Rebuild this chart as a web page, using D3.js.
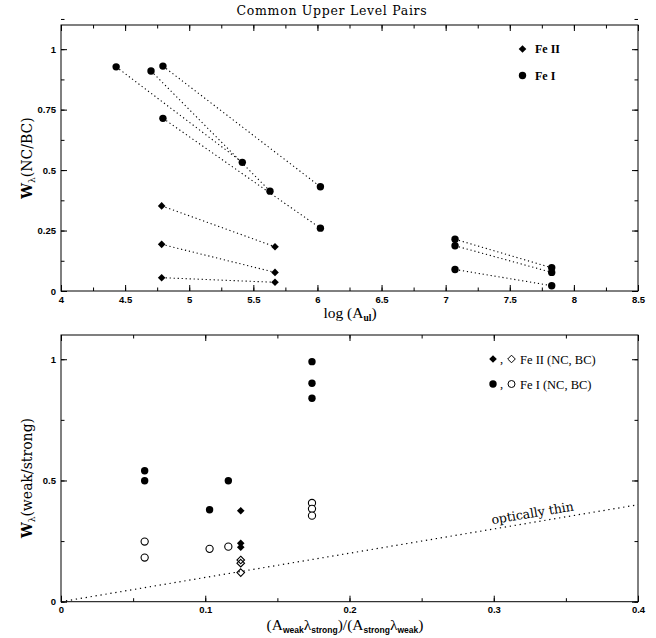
<!DOCTYPE html>
<html>
<head>
<meta charset="utf-8">
<script src="https://cdn.jsdelivr.net/npm/d3@7"></script>
<style>
  html, body { margin: 0; padding: 0; background: #fff; }
  svg { display: block; }
  .tick text { font-family: "Liberation Sans", Arial, sans-serif; font-weight: bold; font-size: 9.5px; fill: #000; }
  .serif { font-family: "DejaVu Serif", "Liberation Serif", serif; fill: #000; }
  .times { font-family: "Liberation Serif", "Times New Roman", serif; fill: #000; }
</style>
</head>
<body>
<svg id="chart" width="656" height="638"></svg>
<script>
// ---------- Upper panel: common upper level pairs, W(NC/BC) vs log A_ul ----------
// Each pair: [logA_1, ratio_1, logA_2, ratio_2]
const feIIPairs = [
  [4.785, 0.352, 5.669, 0.183],
  [4.785, 0.193, 5.669, 0.077],
  [4.785, 0.055, 5.669, 0.036]
];
const feIPairs = [
  [4.430, 0.927, 5.414, 0.532],
  [4.702, 0.910, 5.630, 0.413],
  [4.795, 0.930, 6.023, 0.431],
  [4.795, 0.714, 6.023, 0.260],
  [7.073, 0.214, 7.827, 0.096],
  [7.073, 0.187, 7.827, 0.077],
  [7.073, 0.089, 7.827, 0.022]
];
const topXTicks = [4, 4.5, 5, 5.5, 6, 6.5, 7, 7.5, 8, 8.5];
const topYTicks = [0, 0.25, 0.5, 0.75, 1];

// ---------- Lower panel: W(weak/strong) vs (A_weak λ_strong)/(A_strong λ_weak) ----------
const feINcX = [0.058, 0.058, 0.103, 0.116, 0.174, 0.174, 0.174];
const feINcY = [0.540, 0.499, 0.379, 0.499, 0.990, 0.901, 0.839];
const feIBcX = [0.058, 0.058, 0.103, 0.116, 0.174, 0.174, 0.174];
const feIBcY = [0.248, 0.182, 0.218, 0.227, 0.407, 0.383, 0.355];
const feIINcX = [0.1246, 0.1246, 0.1246];
const feIINcY = [0.375, 0.241, 0.225];
const feIIBcX = [0.1246, 0.1246, 0.1246];
const feIIBcY = [0.172, 0.159, 0.120];
const thinX = [0, 0.4];
const thinY = [0, 0.4];
const botXTicks = [0, 0.1, 0.2, 0.3, 0.4];
const botYTicks = [0, 0.5, 1];

const svg = d3.select("#chart");
const L = 61, R = 638;

const diamond = r => `M0,${-r}L${r},0L0,${r}L${-r},0Z`;

function frame(g, x, y, xMajor, xMinor, yMajor, yMinor, yFmt) {
  const [y0, y1] = y.range();
  const majorLen = 6, minorLen = 3.5;
  // bottom
  g.append("g").attr("transform", `translate(0,${y0})`)
    .call(d3.axisBottom(x).tickValues(xMajor).tickSize(-majorLen).tickPadding(5).tickFormat(d3.format("")))
    .call(a => a.select(".domain").remove());
  g.append("g").attr("transform", `translate(0,${y0})`)
    .call(d3.axisBottom(x).tickValues(xMinor).tickSize(-minorLen).tickFormat(""))
    .call(a => a.select(".domain").remove());
  // top
  g.append("g").attr("transform", `translate(0,${y1})`)
    .call(d3.axisTop(x).tickValues(xMajor).tickSize(-majorLen).tickFormat(""))
    .call(a => a.select(".domain").remove());
  g.append("g").attr("transform", `translate(0,${y1})`)
    .call(d3.axisTop(x).tickValues(xMinor).tickSize(-minorLen).tickFormat(""))
    .call(a => a.select(".domain").remove());
  // left
  g.append("g").attr("transform", `translate(${L},0)`)
    .call(d3.axisLeft(y).tickValues(yMajor).tickSize(-majorLen).tickPadding(5).tickFormat(yFmt))
    .call(a => a.select(".domain").remove());
  g.append("g").attr("transform", `translate(${L},0)`)
    .call(d3.axisLeft(y).tickValues(yMinor).tickSize(-minorLen).tickFormat(""))
    .call(a => a.select(".domain").remove());
  // right
  g.append("g").attr("transform", `translate(${R},0)`)
    .call(d3.axisRight(y).tickValues(yMajor).tickSize(-majorLen).tickFormat(""))
    .call(a => a.select(".domain").remove());
  g.append("g").attr("transform", `translate(${R},0)`)
    .call(d3.axisRight(y).tickValues(yMinor).tickSize(-minorLen).tickFormat(""))
    .call(a => a.select(".domain").remove());
  g.selectAll(".tick line").attr("stroke", "#000");
  g.append("rect").attr("x", L).attr("y", y1).attr("width", R - L).attr("height", y0 - y1)
    .attr("fill", "none").attr("stroke", "#000").attr("stroke-width", 1);
}

const steps = (a, b, s) => d3.range(Math.round((b - a) / s) + 1).map(i => +(a + i * s).toFixed(4));

// ===== Upper panel =====
const xTop = d3.scaleLinear().domain([4, 8.5]).range([L, R]);
const yTop = d3.scaleLinear().domain([0, 1.1]).range([291, 25]);
const gTop = svg.append("g");
frame(gTop, xTop, yTop, topXTicks, steps(4, 8.5, 0.25), topYTicks, steps(0, 1.1, 0.125), d3.format(""));

gTop.append("text").attr("class", "serif").attr("x", 332).attr("y", 15)
  .attr("text-anchor", "middle").attr("font-size", 12.5).attr("letter-spacing", 0.7)
  .text("Common Upper Level Pairs");

// x label: log (A_ul)
const xlT = gTop.append("text").attr("class", "times").attr("x", 350).attr("y", 318)
  .attr("text-anchor", "middle").attr("font-size", 15.5);
xlT.append("tspan").text("log (A");
xlT.append("tspan").attr("dy", 3).attr("font-size", 9.5).attr("font-weight", "bold").text("ul");
xlT.append("tspan").attr("dy", -3).text(")");

// y label: W_λ(NC/BC)
const ylT = gTop.append("text").attr("class", "serif")
  .attr("transform", `translate(32,158) rotate(-90)`)
  .attr("text-anchor", "middle").attr("font-size", 14);
ylT.append("tspan").attr("font-weight", "bold").text("W");
ylT.append("tspan").attr("dy", 3).attr("font-size", 9).text("λ");
ylT.append("tspan").attr("dy", -3).text("(NC/BC)");

const link = d3.line().x(d => xTop(d[0])).y(d => yTop(d[1]));
const allPairs = feIIPairs.concat(feIPairs);
gTop.selectAll("path.pair").data(allPairs).join("path").attr("class", "pair")
  .attr("d", p => link([[p[0], p[1]], [p[2], p[3]]]))
  .attr("fill", "none").attr("stroke", "#000").attr("stroke-width", 1.1)
  .attr("stroke-dasharray", "1.2,2.8");

const feIIPts = feIIPairs.flatMap(p => [[p[0], p[1]], [p[2], p[3]]]);
const feIPts = feIPairs.flatMap(p => [[p[0], p[1]], [p[2], p[3]]]);
gTop.selectAll("path.fe2").data(feIIPts).join("path").attr("class", "fe2")
  .attr("transform", d => `translate(${xTop(d[0])},${yTop(d[1])})`)
  .attr("d", diamond(3.8)).attr("fill", "#000");
gTop.selectAll("circle.fe1").data(feIPts).join("circle").attr("class", "fe1")
  .attr("cx", d => xTop(d[0])).attr("cy", d => yTop(d[1])).attr("r", 3.7).attr("fill", "#000");

// legend
const legTop = gTop.append("g");
legTop.append("path").attr("transform", "translate(522.5,49)").attr("d", diamond(3.8)).attr("fill", "#000");
legTop.append("circle").attr("cx", 522.5).attr("cy", 75.5).attr("r", 3.7).attr("fill", "#000");
legTop.append("text").attr("class", "times").attr("x", 535).attr("y", 53)
  .attr("font-size", 12).attr("font-weight", "bold").text("Fe II");
legTop.append("text").attr("class", "times").attr("x", 535).attr("y", 79.5)
  .attr("font-size", 12).attr("font-weight", "bold").text("Fe I");

// ===== Lower panel =====
const xBot = d3.scaleLinear().domain([0, 0.4]).range([L, R]);
const yBot = d3.scaleLinear().domain([0, 1.1]).range([601.7, 335]);
const gBot = svg.append("g");
frame(gBot, xBot, yBot, botXTicks, steps(0, 0.4, 0.05), botYTicks, steps(0, 1.1, 0.25), d3.format(""));

// optically thin relation
const thinLine = d3.line().x(d => xBot(d[0])).y(d => yBot(d[1]));
gBot.append("path").attr("d", thinLine(thinX.map((v, i) => [v, thinY[i]])))
  .attr("fill", "none").attr("stroke", "#000").attr("stroke-width", 1.2)
  .attr("stroke-dasharray", "1.3,3.7");
const ang = -Math.atan((yBot(0) - yBot(1)) / (xBot(1) - xBot(0))) * 180 / Math.PI;
gBot.append("text").attr("class", "serif")
  .attr("transform", `translate(${xBot(0.2995)},${yBot(0.2995)}) rotate(${ang}) translate(0,-5)`)
  .attr("font-size", 12.5).text("optically thin");

// points
gBot.selectAll("circle.nc1").data(feINcX).join("circle").attr("class", "nc1")
  .attr("cx", d => xBot(d)).attr("cy", (d, i) => yBot(feINcY[i])).attr("r", 3.7).attr("fill", "#000");
gBot.selectAll("circle.bc1").data(feIBcX).join("circle").attr("class", "bc1")
  .attr("cx", d => xBot(d)).attr("cy", (d, i) => yBot(feIBcY[i])).attr("r", 3.6)
  .attr("fill", "#fff").attr("stroke", "#000").attr("stroke-width", 1.1);
gBot.selectAll("path.nc2").data(feIINcX).join("path").attr("class", "nc2")
  .attr("transform", (d, i) => `translate(${xBot(d)},${yBot(feIINcY[i])})`)
  .attr("d", diamond(3.8)).attr("fill", "#000");
gBot.selectAll("path.bc2").data(feIIBcX).join("path").attr("class", "bc2")
  .attr("transform", (d, i) => `translate(${xBot(d)},${yBot(feIIBcY[i])})`)
  .attr("d", diamond(3.8)).attr("fill", "none").attr("stroke", "#000").attr("stroke-width", 1.1);

// axis labels
const xlB = gBot.append("text").attr("class", "times").attr("x", 345).attr("y", 630)
  .attr("text-anchor", "middle").attr("font-size", 15.5);
const sub = (t, s) => t.append("tspan").attr("dy", 3).attr("font-size", 8.5).attr("font-weight", "bold")
  .attr("font-family", "Liberation Sans, Arial, sans-serif").text(s);
xlB.append("tspan").text("(A");
sub(xlB, "weak");
xlB.append("tspan").attr("dy", -3).text("λ");
sub(xlB, "strong");
xlB.append("tspan").attr("dy", -3).text(")/(A");
sub(xlB, "strong");
xlB.append("tspan").attr("dy", -3).text("λ");
sub(xlB, "weak");
xlB.append("tspan").attr("dy", -3).text(")");

const ylB = gBot.append("text").attr("class", "serif")
  .attr("transform", `translate(32,478) rotate(-90)`)
  .attr("text-anchor", "middle").attr("font-size", 14);
ylB.append("tspan").attr("font-weight", "bold").text("W");
ylB.append("tspan").attr("dy", 3).attr("font-size", 9).text("λ");
ylB.append("tspan").attr("dy", -3).text("(weak/strong)");

// legend
const legB = gBot.append("g");
legB.append("path").attr("transform", "translate(493,359)").attr("d", diamond(3.8)).attr("fill", "#000");
legB.append("text").attr("class", "times").attr("x", 500).attr("y", 362.5).attr("font-size", 12.5).text(",");
legB.append("path").attr("transform", "translate(511.5,359)").attr("d", diamond(3.8))
  .attr("fill", "none").attr("stroke", "#000").attr("stroke-width", 1);
legB.append("text").attr("class", "times").attr("x", 520).attr("y", 363.5).attr("font-size", 12.5).text("Fe II (NC, BC)");
legB.append("circle").attr("cx", 493).attr("cy", 384).attr("r", 3.7).attr("fill", "#000");
legB.append("text").attr("class", "times").attr("x", 500).attr("y", 387.5).attr("font-size", 12.5).text(",");
legB.append("circle").attr("cx", 511.5).attr("cy", 384).attr("r", 3.5)
  .attr("fill", "none").attr("stroke", "#000").attr("stroke-width", 1);
legB.append("text").attr("class", "times").attr("x", 520).attr("y", 388.5).attr("font-size", 12.5).text("Fe I (NC, BC)");
</script>
</body>
</html>
